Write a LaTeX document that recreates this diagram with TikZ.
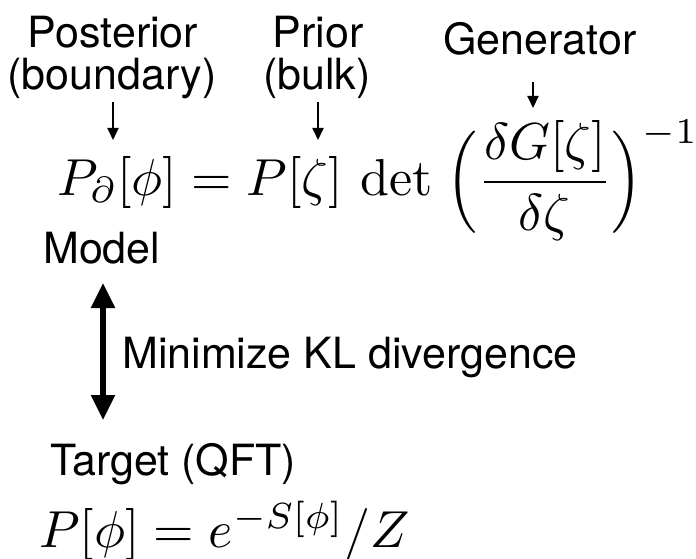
\documentclass[tikz,border=0pt]{standalone}
\usepackage{fontspec}
\usepackage{amsmath}
\newfontfamily\lblfont{TeX Gyre Heros}
\usetikzlibrary{arrows.meta}
\newcommand{\myparL}{\mathopen{\vcenter{\hbox{\scalebox{1}[1.09]{$\Big($}}}}}
\newcommand{\myparR}{\mathclose{\vcenter{\hbox{\scalebox{1}[1.09]{$\Big)$}}}}}
\tikzset{
  lbl/.style={inner sep=0pt, anchor=base, font=\lblfont\fontsize{43}{50}\selectfont},
  lblw/.style={inner sep=0pt, anchor=base west, font=\lblfont\fontsize{43}{50}\selectfont},
  eqn/.style={inner sep=0pt, anchor=base west, scale=5.2},
  pointer/.style={line width=2pt, -{Triangle[length=12pt,width=11pt]}},
  bigarrow/.style={line width=5.5pt, {Triangle[length=25pt,width=23pt]}-{Triangle[length=25pt,width=23pt]}}
}
\begin{document}
\begin{tikzpicture}[x=1pt,y=-1pt]
\useasboundingbox (0,0) rectangle (696,559);
\node[lbl] (post) at (113,48) {Posterior};
\node[lbl] (bnd) at (112,90) {(boundary)};
\node[lbl] (prior) at (318,48) {Prior};
\node[lbl] (bulk) at (317,90) {(bulk)};
\node[lbl] (gen) at (540,55) {Generator};
\coordinate (a1s) at (113,102); \coordinate (a1e) at (113,140);
\coordinate (a2s) at (318,102); \coordinate (a2e) at (318,140);
\coordinate (a3s) at (533,82); \coordinate (a3e) at (533,108);
\draw[pointer] (a1s) -- (a1e);
\draw[pointer] (a2s) -- (a2e);
\draw[pointer] (a3s) -- (a3e);
\node[eqn] (model) at (56,195) {$\displaystyle P_\partial[\phi] = P[\zeta]\,\det\;\myparL\frac{\delta G[\zeta]}{\delta\zeta}\myparR^{-1}$};
\node[lblw] (mlab) at (43,263) {Model};
\coordinate (top) at (103,283); \coordinate (bot) at (103,420);
\draw[bigarrow] (top) -- (bot);
\node[lblw] (kl) at (122,368) {Minimize KL divergence};
\node[lblw] (tlab) at (50,475) {Target (QFT)};
\node[eqn] (target) at (38,547) {$P[\phi] = e^{-S[\phi]}/Z$};
\end{tikzpicture}
\end{document}
